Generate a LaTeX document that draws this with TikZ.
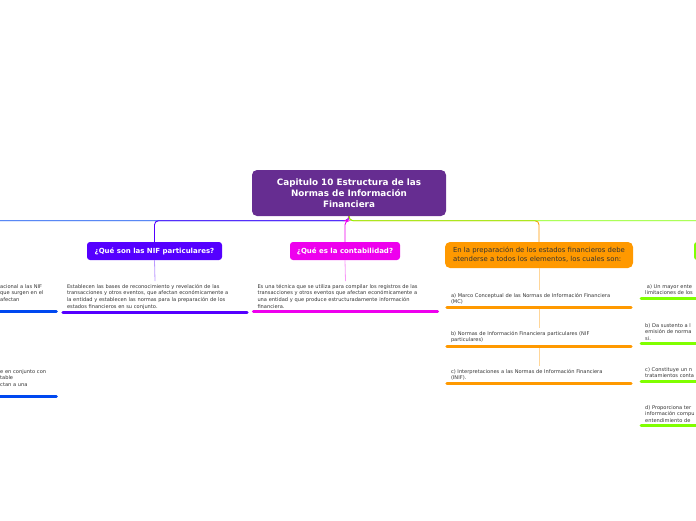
\documentclass[tikz,border=0pt]{standalone}
\usepackage{fontspec}
\setmainfont{DejaVu Sans}
\usetikzlibrary{positioning}
\definecolor{CapPurple}{RGB}{102,45,145}
\definecolor{NifViolet}{RGB}{85,0,255}
\definecolor{ContMagenta}{RGB}{238,0,238}
\definecolor{ElemOrange}{RGB}{255,153,0}
\definecolor{BenGreen}{RGB}{128,255,0}
\definecolor{LeftBlue}{RGB}{0,72,240}
\definecolor{TextGray}{RGB}{51,51,51}

\begin{document}
\begin{tikzpicture}[x=1pt, y=-1pt,
  central/.style={fill=CapPurple, rounded corners=5pt, minimum width=194pt,
              minimum height=46pt, inner sep=0pt, text=white,
              font=\fontsize{8.8}{11}\selectfont\bfseries, align=center},
  ask/.style={fill=#1, rounded corners=3pt, minimum height=18pt,
              inner sep=0pt, text=white,
              font=\fontsize{7}{8}\selectfont\bfseries},
  topic/.style={text width=176pt, align=left, inner xsep=4pt, inner ysep=3pt,
                text=TextGray, font=\fontsize{5.1}{6.7}\selectfont},
  bar/.style={line width=3pt, line cap=round, #1},
  link/.style={line width=0.9pt, rounded corners=4pt, #1},
  sublink/.style={line width=0.8pt, #1!40},
]
\useasboundingbox (0,0) rectangle (696,520);
\clip (0,0) rectangle (696,520);

% Central topic
\node[central] (capt) at (349,193) {Capitulo 10 Estructura de las\\Normas de Información\\Financiera};

% Main branches
\node[ask=LeftBlue, minimum width=130pt] (lft) at (-90,251) {};
\node[ask=NifViolet, minimum width=135pt] (nif) at (154.5,251) {¿Qué son las NIF particulares?};
\node[ask=ContMagenta, minimum width=110pt] (cont) at (345,251) {¿Qué es la contabilidad?};
\node[fill=ElemOrange, rounded corners=5pt, minimum width=188pt, minimum height=26pt,
      inner sep=0pt, text=TextGray, align=left, font=\fontsize{6.9}{9}\selectfont]
  (elem) at (539,255) {En la preparación de los estados financieros debe\\atenderse a todos los elementos, los cuales son:};
\node[ask=BenGreen, minimum width=130pt] (ben) at (759,251) {};

\foreach \n/\c in {lft/LeftBlue, nif/NifViolet, cont/ContMagenta,
                   elem/ElemOrange, ben/BenGreen}
{
  \draw[link=\c] (capt.south) -- ++(0,4.5) -| (\n.north);
}

% Left branch (cut off)
\node[topic, text width=52pt, anchor=north west] (lftA) at (-4,281)
  {acional a las NIF\\que surgen en el\\afectan\\\mbox{}};
\node[topic, text width=52pt, anchor=north west] (lftB) at (-4,366)
  {e en conjunto con\\table\\ctan a una\\\mbox{}};

% NIF particulares
\node[topic, anchor=north] (nifT) at (155,281)
  {Establecen las bases de reconocimiento y revelación de las\\transacciones y otros eventos, que afectan económicamente a\\la entidad y establecen las normas para la preparación de los\\estados financieros en su conjunto.};

% Contabilidad
\node[topic, anchor=north] (contT) at (345.5,281)
  {Es una técnica que se utiliza para compilar los registros de las\\transacciones y otros eventos que afectan económicamente a\\una entidad y que produce estructuradamente información\\financiera.};

% Elementos
\node[topic, anchor=north] (mc) at (539,290)
  {a) Marco Conceptual de las Normas de Información Financiera\\(MC)};
\node[topic, anchor=north] (nifp) at (539,328)
  {b) Normas de Información Financiera particulares (NIF\\particulares)};
\node[topic, anchor=north] (inif) at (539,366)
  {c) Interpretaciones a las Normas de Información Financiera\\(INIF).};

% Right branch (cut off)
\node[topic, anchor=north west] (benA) at (641,281) {\ a) Un mayor ente\\limitaciones de los};
\node[topic, anchor=north west] (benB) at (641,320) {b) Da sustento a l\\emisión de norma\\si.};
\node[topic, anchor=north west] (benC) at (641,364) {c) Constituye un n\\tratamientos conta};
\node[topic, anchor=north west] (benD) at (641,402) {d) Proporciona ter\\información compu\\entendimiento de};

\draw[sublink=NifViolet] (nif.south) -- (nifT.north);
\draw[sublink=ContMagenta] (cont.south) -- (contT.north);
\draw[sublink=ElemOrange] (elem.south) -- (mc.north);
\draw[sublink=ElemOrange] (mc.south) -- (nifp.north);
\draw[sublink=ElemOrange] (nifp.south) -- (inif.north);

\foreach \t/\c in {lftA/LeftBlue, lftB/LeftBlue, nifT/NifViolet, contT/ContMagenta,
                   mc/ElemOrange, nifp/ElemOrange, inif/ElemOrange,
                   benA/BenGreen, benB/BenGreen, benC/BenGreen, benD/BenGreen}
{
  \draw[bar=\c] (\t.south west) -- (\t.south east);
}
\end{tikzpicture}
\end{document}
